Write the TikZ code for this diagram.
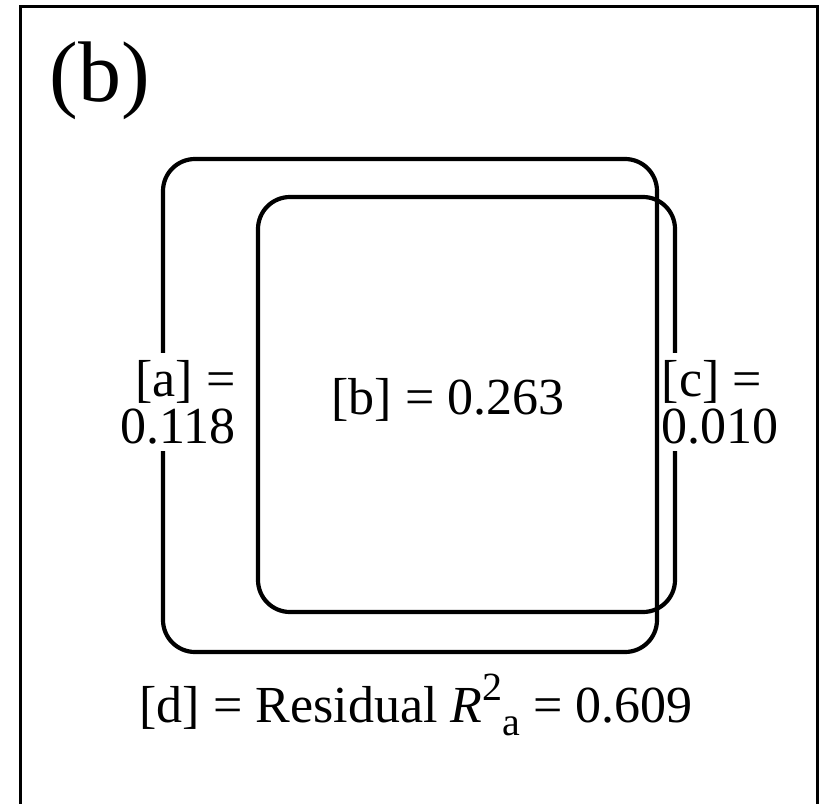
\documentclass[tikz,border=0pt]{standalone}
\usepackage{fontspec}
\setmainfont{Liberation Serif}
\begin{document}
\begin{tikzpicture}[x=1pt,y=-1pt,
  setbox/.style={line width=4.2pt,rounded corners=32pt},
  lbl/.style={font=\fontsize{52}{47}\selectfont,inner sep=2pt},
  cutlbl/.style={lbl,fill=white,inner ysep=7pt}]
\useasboundingbox (0,0) rectangle (819,803);
\draw[line width=3pt] (20,806) -- (20,6) -- (817,6) -- (817,806);
\node[font=\fontsize{86}{90}\selectfont,inner sep=0pt] (title) at (100,81) {(b)};
\draw[setbox] (163,159) rectangle (657,652);
\draw[setbox] (258,197) rectangle (675,612);
\node[cutlbl,align=right] (la) at (178,402) {[a] =\\0.118};
\node[cutlbl,align=left,anchor=west,inner xsep=1.5pt] (lc) at (660,402) {[c] =\\0.010};
\node[lbl] (lb) at (448,400) {[b] = 0.263};
\node[lbl] (ld) at (416,705) {[d] = Residual \textit{R}\raisebox{0.42em}{\fontsize{40}{40}\selectfont 2}\raisebox{-0.24em}{\fontsize{40}{40}\selectfont a} = 0.609};
\end{tikzpicture}
\end{document}
